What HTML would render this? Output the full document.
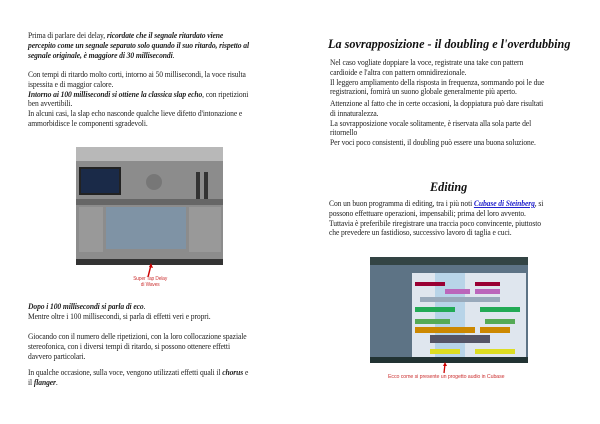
<html><head><style>
body{margin:0;width:600px;height:424px;background:#fff;position:relative;overflow:hidden;font-family:"Liberation Serif",serif;color:#222}
.t{position:absolute;font-size:7.9px;line-height:9.8px;white-space:nowrap;letter-spacing:-0.1px;transform:scaleX(0.96);transform-origin:0 0}
b i,i b{font-weight:bold}
.h{position:absolute;font-weight:bold;font-style:italic;font-size:12.2px;white-space:nowrap;color:#111}
</style></head><body>
<div class="t" style="left:28px;top:31px">Prima di parlare dei delay, <b><i>ricordate che il segnale ritardato viene</i></b><br><b><i>percepito come un segnale separato solo quando il suo ritardo, rispetto al</i></b><br><b><i>segnale originale, è maggiore di 30 millisecondi</i></b>.</div>
<div class="t" style="left:28px;top:70px">Con tempi di ritardo molto corti, intorno ai 50 millisecondi, la voce risulta<br>ispessita e di maggior calore.<br><b><i>Intorno ai 100 millisecondi si ottiene la classica slap echo</i></b>, con ripetizioni<br>ben avvertibili.<br>In alcuni casi, la slap echo nasconde qualche lieve difetto d'intonazione e<br>ammorbidisce le componenti sgradevoli.</div>
<svg style="position:absolute;left:76px;top:147px" width="147" height="118">
<rect width="147" height="118" fill="#8c8c8c"/>
<rect x="0" y="0" width="147" height="14" fill="#b8b8b8"/>
<rect x="3" y="20" width="42" height="28" fill="#222"/><rect x="5" y="22" width="38" height="24" fill="#1a2a48"/>
<circle cx="78" cy="35" r="8" fill="#777"/>
<rect x="120" y="25" width="4" height="30" fill="#333"/><rect x="128" y="25" width="4" height="30" fill="#333"/>
<rect x="0" y="52" width="147" height="6" fill="#666"/>
<rect x="30" y="60" width="80" height="42" fill="#7f93a5"/>
<rect x="3" y="60" width="24" height="45" fill="#999"/><rect x="113" y="60" width="32" height="45" fill="#999"/>
<rect x="0" y="112" width="147" height="6" fill="#333"/>
</svg>
<svg style="position:absolute;left:145px;top:262px" width="10" height="16"><path d="M3 15 L6 3" stroke="#c00" stroke-width="1.5"/><path d="M6 1 L8 6 L4 5Z" fill="#c00"/></svg>
<div class="t" style="left:131px;top:276px;font-family:'Liberation Sans',sans-serif;font-size:5px;line-height:6px;color:#c33;text-align:center;width:40px">Super Tap Delay<br>di Waves</div>
<div class="t" style="left:28px;top:302px"><b><i>Dopo i 100 millisecondi si parla di eco</i></b>.<br>Mentre oltre i 100 millisecondi, si parla di effetti veri e propri.</div>
<div class="t" style="left:28px;top:332px">Giocando con il numero delle ripetizioni, con la loro collocazione spaziale<br>stereofonica, con i diversi tempi di ritardo, si possono ottenere effetti<br>davvero particolari.</div>
<div class="t" style="left:28px;top:368px">In qualche occasione, sulla voce, vengono utilizzati effetti quali il <b><i>chorus</i></b> e<br>il <b><i>flanger</i></b>.</div>

<div class="h" style="left:328px;top:37px">La sovrapposizione - il doubling e l'overdubbing</div>
<div class="t" style="left:330px;top:58px">Nel caso vogliate doppiare la voce, registrate una take con pattern<br>cardioide e l'altra con pattern omnidirezionale.<br>Il leggero ampliamento della risposta in frequenza, sommando poi le due<br>registrazioni, fornirà un suono globale generalmente più aperto.</div>
<div class="t" style="left:330px;top:99px">Attenzione al fatto che in certe occasioni, la doppiatura può dare risultati<br>di innaturalezza.<br>La sovrapposizione vocale solitamente, è riservata alla sola parte del<br>ritornello<br>Per voci poco consistenti, il doubling può essere una buona soluzione.</div>
<div class="h" style="left:430px;top:180px">Editing</div>
<div class="t" style="left:329px;top:199px">Con un buon programma di editing, tra i più noti <b><i style="color:#22c;text-decoration:underline">Cubase di Steinberg</i></b>, si<br>possono effettuare operazioni, impensabili; prima del loro avvento.<br>Tuttavia è preferibile riregistrare una traccia poco convincente, piuttosto<br>che prevedere un fastidioso, successivo lavoro di taglia e cuci.</div>
<svg style="position:absolute;left:370px;top:257px" width="158" height="106">
<rect width="158" height="106" fill="#5d7385"/>
<rect width="158" height="8" fill="#344"/>
<rect x="42" y="16" width="114" height="86" fill="#dfe6ee"/>
<rect x="65" y="16" width="30" height="86" fill="#b8d4e8"/>
<rect x="45" y="25" width="30" height="4" fill="#903"/><rect x="105" y="25" width="25" height="4" fill="#903"/>
<rect x="75" y="32" width="25" height="5" fill="#b6b"/><rect x="105" y="32" width="25" height="5" fill="#b6b"/>
<rect x="50" y="40" width="80" height="5" fill="#9ab"/>
<rect x="45" y="50" width="40" height="5" fill="#2a5"/><rect x="110" y="50" width="40" height="5" fill="#2a5"/>
<rect x="45" y="62" width="35" height="5" fill="#5a5"/><rect x="115" y="62" width="30" height="5" fill="#5a5"/>
<rect x="45" y="70" width="60" height="6" fill="#c80"/><rect x="110" y="70" width="30" height="6" fill="#c80"/>
<rect x="60" y="78" width="60" height="8" fill="#556"/>
<rect x="60" y="92" width="30" height="5" fill="#dd2"/><rect x="105" y="92" width="40" height="5" fill="#dd2"/>
<rect x="0" y="100" width="158" height="6" fill="#233"/>
</svg>
<svg style="position:absolute;left:441px;top:362px" width="8" height="12"><path d="M3 11 L4 2" stroke="#c00" stroke-width="1.3"/><path d="M4 0 L6 4 L2 4Z" fill="#c00"/></svg>
<div class="t" style="left:388px;top:373px;font-family:'Liberation Sans',sans-serif;font-size:5.5px;color:#c33">Ecco come si presente un progetto audio in Cubase</div>
</body></html>
